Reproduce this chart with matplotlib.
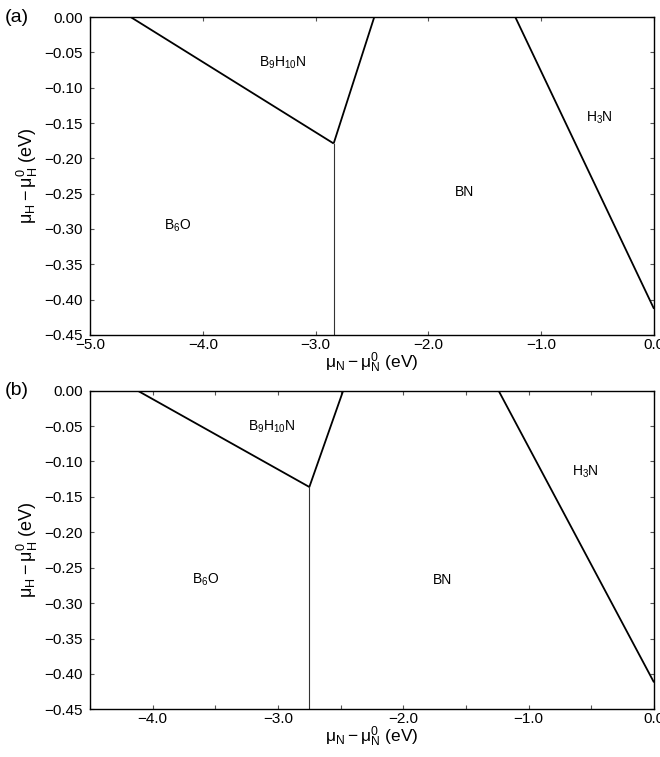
import matplotlib
matplotlib.use("Agg")
import matplotlib.pyplot as plt
from matplotlib.ticker import MultipleLocator, FuncFormatter

plt.rcParams['font.family'] = ['Liberation Sans', 'DejaVu Sans']
plt.rcParams['mathtext.fontset'] = 'custom'
plt.rcParams['mathtext.rm'] = 'Liberation Sans'
plt.rcParams['mathtext.it'] = 'Liberation Sans'
plt.rcParams['mathtext.default'] = 'rm'

# panel (a): phase boundaries (mu_N, mu_H)
a_b6o_b9 = ([-4.64, -2.84], [0.0, -0.179])
a_b9_bn = ([-2.84, -2.48], [-0.179, 0.0])
a_b6o_bn = ([-2.84, -2.84], [-0.179, -0.45])
a_bn_h3n = ([-1.23, 0.0], [0.0, -0.413])
a_labels = ["B$_9$H$_{10}$N", "B$_6$O", "BN", "H$_3$N"]
a_label_x = [-3.29, -4.22, -1.68, -0.48]
a_label_y = [-0.065, -0.295, -0.248, -0.143]

# panel (b)
b_b6o_b9 = ([-4.12, -2.75], [0.0, -0.136])
b_b9_bn = ([-2.75, -2.48], [-0.136, 0.0])
b_b6o_bn = ([-2.75, -2.75], [-0.136, -0.45])
b_bn_h3n = ([-1.24, 0.0], [0.0, -0.412])
b_labels = ["B$_9$H$_{10}$N", "B$_6$O", "BN", "H$_3$N"]
b_label_x = [-3.05, -3.58, -1.69, -0.55]
b_label_y = [-0.051, -0.267, -0.267, -0.114]

panels = [
    ("(a)", (-5.0, 0.0), 1.0, [a_b6o_b9, a_b9_bn, a_bn_h3n], a_b6o_bn,
     a_labels, a_label_x, a_label_y),
    ("(b)", (-4.5, 0.0), 0.5, [b_b6o_b9, b_b9_bn, b_bn_h3n], b_b6o_bn,
     b_labels, b_label_x, b_label_y),
]


def xfmt(v, p):
    if abs(v - round(v)) > 1e-6:
        return ""
    return f"{v:.1f}".replace("-", "\u2212")


def yfmt(v, p):
    if abs(v) < 1e-9:
        return "0.00"
    return f"{v:.2f}".replace("-", "\u2212")


fig = plt.figure(figsize=(6.6, 7.57), dpi=100)
rects = [[0.1364, 0.5575, 0.8545, 0.420], [0.1364, 0.0630, 0.8545, 0.4209]]

for rect, (tag, xlim, xstep, lines, vline, labels, lx, ly) in zip(rects, panels):
    ax = fig.add_axes(rect)
    for xs, ys in lines:
        ax.plot(xs, ys, color='black', lw=1.3, solid_capstyle='butt')
    ax.plot(vline[0], vline[1], color='#333333', lw=0.8)
    for t, x, y in zip(labels, lx, ly):
        ax.text(x, y, t, ha='center', va='center', fontsize=10)
    ax.set_xlim(*xlim)
    ax.set_ylim(-0.45, 0.0)
    ax.xaxis.set_major_locator(MultipleLocator(xstep))
    ax.yaxis.set_major_locator(MultipleLocator(0.05))
    ax.xaxis.set_major_formatter(FuncFormatter(xfmt))
    ax.yaxis.set_major_formatter(FuncFormatter(yfmt))
    ax.tick_params(direction='in', length=3, width=0.8, top=True, right=True,
                   labelsize=11, color='#555555')
    ax.tick_params(axis='x', pad=2)
    ax.tick_params(axis='y', pad=5)
    for s in ax.spines.values():
        s.set_linewidth(1.0)
    ax.set_xlabel(r"$\mu_N - \mu_N^0$ (eV)", fontsize=12.5, labelpad=-1)
    ax.set_ylabel(r"$\mu_H - \mu_H^0$ (eV)", fontsize=13, labelpad=3)
    ax.text(-0.152, 1.0, tag, transform=ax.transAxes, fontsize=14,
            ha='left', va='center')

fig.savefig("out.png", dpi=100)
